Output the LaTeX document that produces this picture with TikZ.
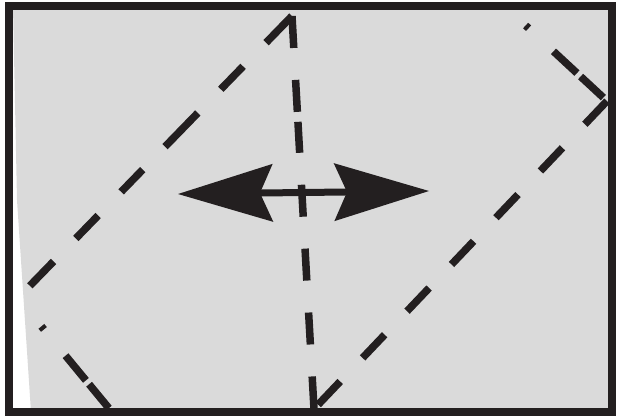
\documentclass[tikz,border=0pt]{standalone}
\usepackage{tikz}
\usetikzlibrary{arrows.meta}
\definecolor{sheetbg}{HTML}{DADADA}
\definecolor{ink}{HTML}{231F20}

\begin{document}
\begin{tikzpicture}[x=1pt, y=-1pt, line join=miter,
    fold/.style={draw=ink, line width=7.5pt},
    foldend/.style={fold, dash pattern=on 0pt off 5pt on 31pt off 5pt on 32pt off 34pt on 4pt off 200pt},
    >={Stealth[length=95pt, width=58pt, inset=13pt, line width=0pt]}]
  \useasboundingbox (0,0) rectangle (621,417);

  % Sheet
  \fill[sheetbg] (13,6) -- (612,6) -- (612,412) -- (31,412) -- (17,200) -- cycle;

  % Fold corners
  \coordinate (bl) at (112,412);
  \coordinate (lv) at (18,298);
  \coordinate (apex) at (292,16);
  \coordinate (bot) at (314,409);
  \coordinate (rv) at (607,101);
  \coordinate (re) at (524,24);

  % Fold lines
  \begin{scope}
    \clip (13,6) -- (612,6) -- (612,412) -- (31,412) -- (17,200) -- cycle;
    \draw[foldend] (bl) -- (lv);
    \draw[fold, dash pattern=on 0pt off 17pt on 34pt off 32pt on 32pt off 33pt on 31pt off 32pt on 47pt off 33pt on 32pt off 33pt on 40pt off 100pt] (lv) -- (apex);
    \draw[fold, dash pattern=on 32pt off 32pt on 32pt off 10pt on 31pt off 32pt on 32pt off 32pt on 32pt off 32pt on 32pt off 32pt on 32pt off 100pt] (apex) -- (bot);
    \draw[fold, dash pattern=on 32pt off 32.5pt, dash phase=58.5pt] (bot) -- (rv);
    \draw[foldend] (rv) -- (re);
  \end{scope}

  % Frame
  \draw[ink, line width=8pt] (9,6.5) rectangle (612,412);

  % Motion arrow
  \coordinate (arrL) at (178,194);
  \coordinate (arrR) at (429,191);
  \draw[ink, line width=7pt, <->] (arrL) -- (arrR);
\end{tikzpicture}
\end{document}
